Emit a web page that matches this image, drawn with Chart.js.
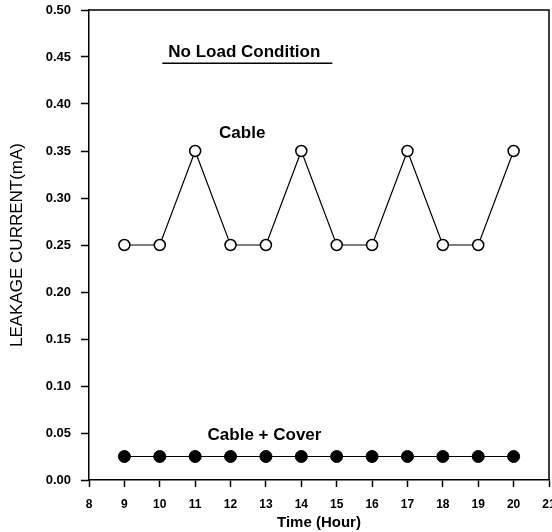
<!DOCTYPE html>
<html>
<head>
<meta charset="utf-8">
<script src="https://cdn.jsdelivr.net/npm/chart.js@4"></script>
<style>
  html, body { margin: 0; padding: 0; background: #fff; }
  #wrap { width: 552px; height: 532px; }
</style>
</head>
<body>
<div id="wrap"><canvas id="chart" width="552" height="532"></canvas></div>
<script>
// data
const hours = [9, 10, 11, 12, 13, 14, 15, 16, 17, 18, 19, 20];
const cable = [0.25, 0.25, 0.35, 0.25, 0.25, 0.35, 0.25, 0.25, 0.35, 0.25, 0.25, 0.35];
const cableCover = [0.025, 0.025, 0.025, 0.025, 0.025, 0.025, 0.025, 0.025, 0.025, 0.025, 0.025, 0.025];
const notes = ['No Load Condition', 'Cable', 'Cable + Cover'];

const ctx = document.getElementById('chart');
const FONT = '"Liberation Sans", Arial, sans-serif';

// frame round the plot + text notes
const extras = {
  id: 'extras',
  afterDraw(chart) {
    const c = chart.ctx;
    const a = chart.chartArea;
    const xs = chart.scales.x, ys = chart.scales.y;
    c.save();
    c.strokeStyle = '#000';
    c.lineWidth = 1.5;
    c.beginPath();
    c.moveTo(a.left, a.top);
    c.lineTo(a.right, a.top);
    c.lineTo(a.right, a.bottom);
    c.stroke();

    c.fillStyle = '#000';
    c.textAlign = 'center';
    c.textBaseline = 'middle';
    c.font = 'bold 17px ' + FONT;
    const spots = [[12.39, 0.455], [12.33, 0.369], [12.96, 0.048]];
    notes.forEach((t, i) => {
      c.fillText(t, xs.getPixelForValue(spots[i][0]), ys.getPixelForValue(spots[i][1]));
    });
    // underline of heading
    const hx = xs.getPixelForValue(spots[0][0]);
    const hy = ys.getPixelForValue(spots[0][1]);
    c.lineWidth = 1.5;
    c.beginPath();
    c.moveTo(hx - 82, hy + 11);
    c.lineTo(hx + 88, hy + 11);
    c.stroke();
    c.restore();
  }
};

new Chart(ctx, {
  type: 'line',
  data: {
    datasets: [
      {
        label: 'Cable',
        data: hours.map((h, i) => ({ x: h, y: cable[i] })),
        borderColor: '#000',
        borderWidth: 1.2,
        pointRadius: 5.5,
        pointBorderWidth: 1.5,
        pointBackgroundColor: '#fff',
        pointBorderColor: '#000',
        tension: 0
      },
      {
        label: 'Cable + Cover',
        data: hours.map((h, i) => ({ x: h, y: cableCover[i] })),
        borderColor: '#000',
        borderWidth: 1.2,
        pointRadius: 6,
        pointBorderWidth: 1,
        pointBackgroundColor: '#000',
        pointBorderColor: '#000',
        tension: 0
      }
    ]
  },
  options: {
    responsive: false,
    animation: false,
    layout: { autoPadding: false, padding: { top: 10, right: 3, left: 0, bottom: 0 } },
    plugins: {
      legend: { display: false },
      tooltip: { enabled: false }
    },
    scales: {
      x: {
        type: 'linear',
        min: 8,
        max: 21,
        afterFit(s) { s.height = 52; s.paddingRight = 0; s.paddingLeft = 0; },
        ticks: {
          stepSize: 1,
          color: '#000',
          padding: 10,
          maxRotation: 0,
          font: { family: FONT, size: 12, weight: 'bold' }
        },
        grid: { drawOnChartArea: false, tickLength: 7, tickColor: '#000', tickWidth: 1.5 },
        border: { color: '#000', width: 1.5 },
        title: {
          display: true,
          text: 'Time (Hour)',
          color: '#000',
          padding: { top: 0, bottom: 0 },
          font: { family: FONT, size: 15, weight: 'bold' }
        }
      },
      y: {
        min: 0,
        max: 0.5,
        afterFit(s) { s.width = 89; s.paddingTop = 0; s.paddingBottom = 0; },
        ticks: {
          stepSize: 0.05,
          color: '#000',
          padding: 10,
          callback: v => v.toFixed(2),
          font: { family: FONT, size: 13, weight: 'bold' }
        },
        grid: { drawOnChartArea: false, tickLength: 8, tickColor: '#000', tickWidth: 1.5 },
        border: { color: '#000', width: 1.5 },
        title: {
          display: true,
          text: 'LEAKAGE CURRENT(mA)',
          color: '#000',
          padding: { top: 7, bottom: 0 },
          font: { family: FONT, size: 17 }
        }
      }
    }
  },
  plugins: [extras]
});
</script>
</body>
</html>
